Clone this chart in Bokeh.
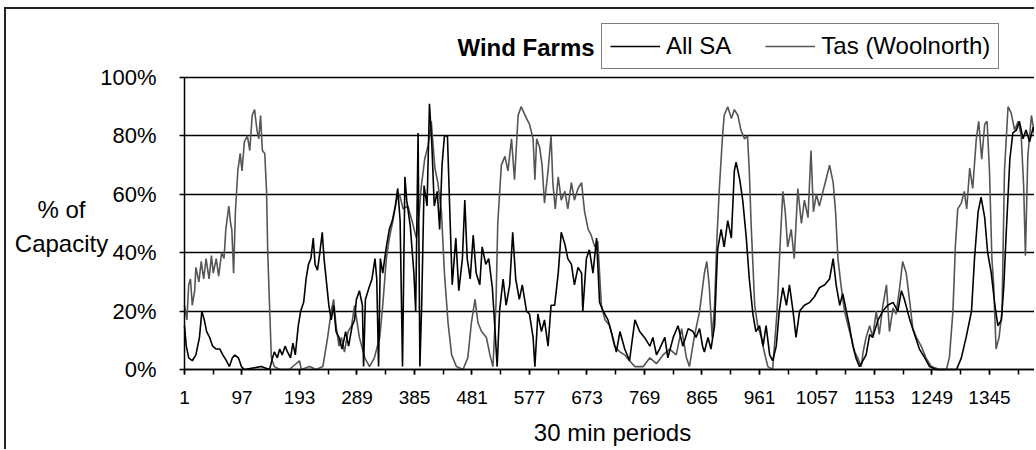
from bokeh.plotting import figure
from bokeh.models import (FixedTicker, PrintfTickFormatter, Label, Legend, LegendItem,
                          Range1d, ColumnDataSource)
from bokeh.embed import file_html
from bokeh.resources import INLINE

# ---------------- data ----------------
sa_period = [1,4,8,14,20,26,30,34,38,43,48,54,60,65,71,76,81,85,91,96,101,115,129,143,148,151,156,160,164,169,
             173,178,182,186,191,195,200,204,208,212,216,219,223,227,231,234,238,242,246,250,254,259,264,270,275,281,285,
             288,293,298,300,303,309,314,319,322,325,328,332,338,343,348,353,357,361,365,369,372,378,384,387,391,394,397,
             401,406,410,414,418,423,427,431,435,440,444,448,454,459,465,469,473,478,483,488,494,498,504,509,515,519,523,
             527,533,538,544,549,554,560,565,
             572,577,583,586,591,597,602,608,613,619,625,630,636,641,647,652,658,664,666,672,677,683,689,694,700,708,716,
             722,728,736,744,753,761,769,778,783,789,794,803,808,817,825,833,842,
             850,855,861,866,869,875,880,886,891,897,902,908,914,919,922,928,933,939,944,950,955,961,967,972,978,983,989,
             994,1000,1006,1011,1017,1022,1028,1036,1045,1053,1061,1070,1078,1084,1089,1095,1100,1106,1111,1117,1122,1128,
             1139,1145,1150,1159,1167,1175,1184,1192,1198,1203,1212,1220,1228,1237,1245,1256,1273,1290,1298,1306,1315,
             1320,1326,1331,1337,1342,1348,1354,1359,1365,1369,1373,1379,1384,1390,1395,1401,1406,1412,1418,1422]
sa_value = [15,8,4,3,5,11,20,17,13,11,8,7,7,5,3,1,4,5,4,1,0,0.5,1,0,4,6,4,7,5,8,
            6,4,9,5,15,20,23,31,36,38,45,36,34,40,47,38,30,22,17,22,13,11,7,13,8,15,17,
            24,27,22,1,24,28,31,38,31,1,38,33,42,48,51,56,62,51,1,66,58,49,33,20,81,1,22,
            63,56,91,77,56,61,48,70,80,80,54,29,45,27,38,58,38,31,46,33,29,42,36,38,28,15,1,
            20,31,22,29,47,31,24,29,
            20,19,11,1,19,13,17,8,22,22,33,47,43,38,36,29,35,33,20,38,41,33,45,23,20,17,11,
            6,13,7,3,17,13,11,8,11,5,7,11,4,11,15,8,14,
            13,11,14,8,6,11,7,15,41,48,42,51,45,68,71,65,58,45,31,19,13,15,8,15,5,3,8,
            20,28,22,29,20,11,20,22,23,25,28,29,31,38,29,22,26,20,15,8,4,1,
            5,12,11,17,20,22,23,20,27,24,17,12,7,4,1,0,0,0,4,11,20,
            38,54,59,52,40,33,22,15,17,29,47,72,81,82,85,79,82,78,83,79]

tas_period = [1,5,8,11,14,18,20,25,29,33,37,42,46,49,54,58,63,67,70,75,78,80,83,86,90,94,97,101,106,110,
              114,118,122,125,128,131,135,138,140,143,146,151,160,176,193,196,210,221,232,240,246,250,254,259,263,
              268,274,280,285,
              293,302,310,318,327,332,338,343,349,355,360,366,374,382,388,393,396,402,408,413,419,424,430,435,441,
              447,455,466,474,480,486,491,497,505,511,516,521,524,530,536,541,547,552,558,563,
              572,577,583,586,589,594,598,602,608,613,616,620,625,630,636,641,647,652,658,664,669,675,680,686,691,
              697,703,711,719,728,736,744,753,767,778,789,800,811,822,831,839,
              844,852,861,869,873,877,882,886,890,894,899,902,908,914,919,925,930,936,941,944,947,953,958,964,969,
              975,983,990,996,1000,1004,1008,1014,1019,1025,1031,1036,1042,1047,1051,1056,1061,1067,1072,1078,1084,
              1088,1092,1097,1103,1109,1114,1120,1125,1131,
              1134,1139,1145,1150,1156,1161,1167,1173,1178,1184,1189,1195,1200,1206,1212,1217,1223,1231,1239,1248,
              1262,1273,1278,1284,1288,1292,1298,1303,1307,1312,1317,1323,1327,1332,1337,1341,1345,1349,1352,1356,
              1361,1366,1370,1376,1381,1387,1393,1398,1402,1405,1409,1415,1419]
tas_value = [22,17,29,31,22,27,35,30,37,31,38,31,39,33,38,32,40,38,48,56,50,48,33,54,68,74,68,78,80,75,
             87,89,82,79,87,75,74,61,40,22,4,1,0,0,3,0,1,0,1,11,20,24,15,8,11,6,13,15,22,
             11,4,1,4,11,22,38,45,51,58,60,55,56,50,45,54,62,72,77,85,69,64,54,33,16,5,1,0,4,16,
             24,16,13,11,5,1,22,50,70,73,68,79,65,87,90,
             86,84,79,65,79,76,70,57,68,80,64,55,66,58,61,55,64,58,62,64,54,48,46,42,44,22,17,15,8,6,
             5,3,1,1,4,2,5,7,5,14,4,
             1,11,20,33,37,29,11,22,45,62,79,87,90,86,89,87,82,79,80,68,50,22,15,11,6,1,0,19,45,61,
             54,42,48,38,62,50,58,52,75,54,60,56,61,65,70,64,54,38,29,20,15,11,6,4,1,
             6,11,15,11,20,12,22,29,13,21,19,28,37,33,23,14,11,8,4,1,0,0,4,20,42,55,57,61,55,69,
             62,79,85,72,84,85,68,38,29,7,11,20,68,90,88,82,85,80,63,39,73,87,82]

x_tick_labels = [1, 97, 193, 289, 385, 481, 577, 673, 769, 865, 961, 1057, 1153, 1249, 1345]
x_minor_ticks = [1, 49, 97, 145, 193, 241, 289, 337, 385, 433, 481, 529, 577, 625, 673, 721, 769, 817,
                 865, 913, 961, 1009, 1057, 1105, 1153, 1201, 1249, 1297, 1345, 1393]
y_ticks = [0, 20, 40, 60, 80, 100]
series_names = ["All SA", "Tas (Woolnorth)"]
x_start, x_end = 1, 1423.5      # plotted period span
y_start, y_end = 0, 100         # plotted percentage span

FONT = "Liberation Sans"

# The plot frame covers the whole canvas; both axes are drawn at fixed locations
# (x axis at 0 %, y axis at period 1) and bounded, so every text fits inside the frame.
p = figure(width=1030, height=442, output_backend="svg", toolbar_location=None, title=None,
           x_range=Range1d(-296.18, x_end), y_range=Range1d(-28.08, 123.29),
           min_border_left=0, min_border_right=0, min_border_top=0, min_border_bottom=0)
p.outline_line_color = None
p.background_fill_color = "white"
p.styles = {"margin-left": "4px", "margin-top": "7px",
            "border-top": "2px solid #222", "border-left": "2px solid #222"}

# horizontal grid lines, limited to the plot area
gridlines_done = False
p.xgrid.visible = False
p.ygrid.ticker = FixedTicker(ticks=y_ticks)
p.ygrid.grid_line_color = "black"
p.ygrid.grid_line_width = 1.5
try:
    p.ygrid.cross_bounds = (x_start, x_end)
    gridlines_done = True
except AttributeError:
    p.ygrid.visible = False
if not gridlines_done:
    p.segment(x0=[x_start] * len(y_ticks), x1=[x_end] * len(y_ticks), y0=y_ticks, y1=y_ticks,
              line_color="black", line_width=1.5)

src_sa = ColumnDataSource(dict(x=sa_period, y=sa_value))
src_tas = ColumnDataSource(dict(x=tas_period, y=tas_value))
r_tas = p.line("x", "y", source=src_tas, line_color="#555555", line_width=1.6)
r_sa = p.line("x", "y", source=src_sa, line_color="#000000", line_width=1.6)

# axes
p.xaxis.fixed_location = y_start
p.xaxis.bounds = (x_start, x_end)
p.yaxis.fixed_location = x_start
p.yaxis.bounds = (y_start, y_end)
p.xaxis.ticker = FixedTicker(ticks=x_tick_labels, minor_ticks=x_minor_ticks)
p.yaxis.ticker = FixedTicker(ticks=y_ticks, minor_ticks=[])
p.yaxis.formatter = PrintfTickFormatter(format="%d%%")
for ax in (p.xaxis[0], p.yaxis[0]):
    ax.axis_line_color = "black"
    ax.axis_line_width = 1.5
    ax.major_tick_line_color = "black"
    ax.major_tick_line_width = 1.5
    ax.major_tick_out = 5
    ax.major_tick_in = 0
    ax.major_label_text_font = FONT
    ax.major_label_text_color = "black"
p.xaxis.minor_tick_line_color = "black"
p.xaxis.minor_tick_line_width = 1.5
p.xaxis.minor_tick_out = 5
p.xaxis.minor_tick_in = 0
p.xaxis.major_label_text_font_size = "19px"
p.xaxis.major_label_standoff = 16
p.yaxis.major_label_text_font_size = "22px"
p.yaxis.major_label_standoff = 23

# titles (screen units from the frame's bottom-left corner)
def add_text(text, x, y, size, align="left", style="normal"):
    p.add_layout(Label(x=x, y=y, x_units="screen", y_units="screen", text=text,
                       text_font=FONT, text_font_size=size, text_font_style=style,
                       text_align=align, text_baseline="middle", text_color="black"))

add_text("% of", 55, 242, "24px", align="center")
add_text("Capacity", 55, 208, "24px", align="center")
add_text("30 min periods", 606, 19, "24px", align="center")
add_text("Wind Farms", 451, 404, "24px", style="bold")

legend = Legend(items=[LegendItem(label=series_names[0], renderers=[r_sa]),
                       LegendItem(label=series_names[1], renderers=[r_tas])],
                orientation="horizontal", location=(595, 382))
legend.label_text_font = FONT
legend.label_text_font_size = "24px"
legend.label_text_color = "black"
legend.glyph_width = 50
legend.glyph_height = 24
legend.label_standoff = 6
legend.spacing = 34
legend.padding = 8
legend.margin = 0
legend.border_line_color = "black"
legend.border_line_width = 1.5
legend.background_fill_alpha = 1
p.add_layout(legend)

open("out.html", "w").write(file_html(p, INLINE))
